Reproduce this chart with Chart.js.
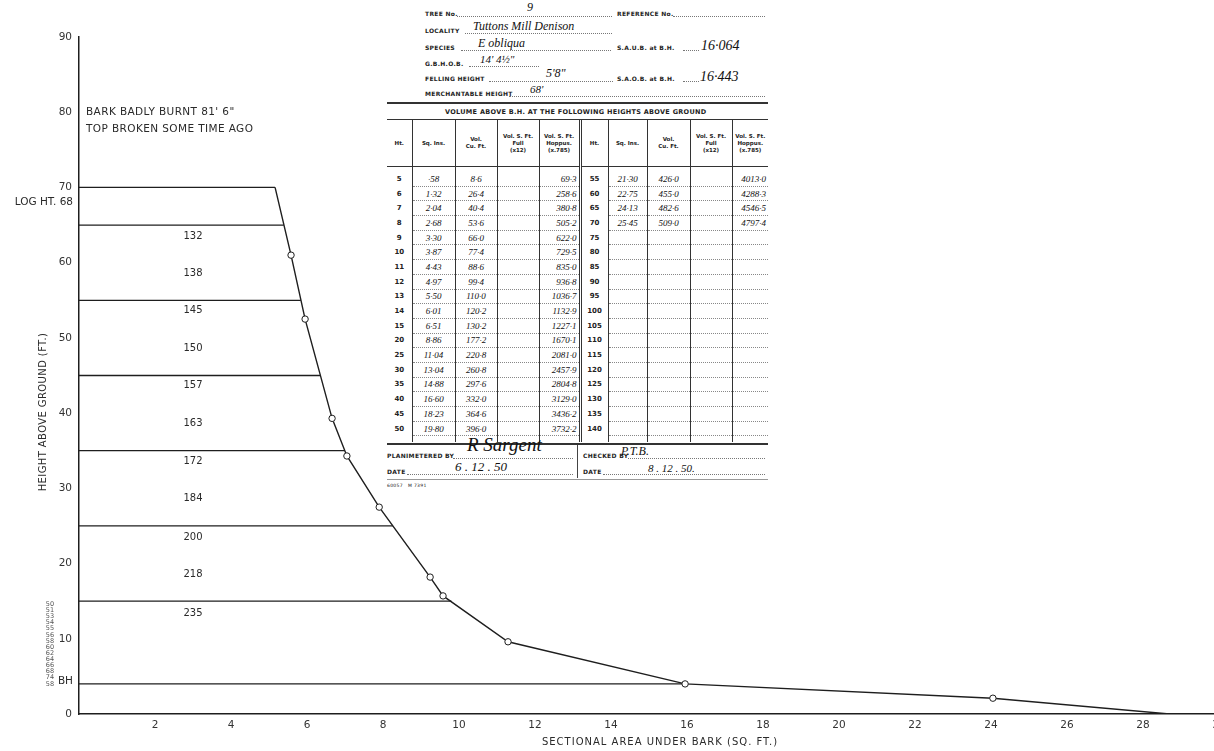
<!DOCTYPE html>
<html>
<head>
<meta charset="utf-8">
<script src="https://cdn.jsdelivr.net/npm/chart.js@4"></script>
<style>
  html, body { margin: 0; padding: 0; background: #fff; overflow: hidden; }
  body { width: 1214px; height: 751px; position: relative; }
  #wrap { position: absolute; left: 0; top: 0; width: 1240px; height: 751px; }
  #card { position: absolute; left: 383px; top: 0; width: 388px; height: 490px; background: #fff;
          font-family: "DejaVu Sans", sans-serif; color: #222; }
  .p { position: absolute; font-size: 6px; font-weight: bold; letter-spacing: 0.3px; white-space: nowrap; line-height: 8px; }
  .h { position: absolute; font-family: "Liberation Serif", serif; font-style: italic; white-space: nowrap; color: #111; }
  .d { position: absolute; height: 0; border-bottom: 1px dotted #777; }
  .rule { position: absolute; left: 4px; width: 381px; height: 0; border-top: 2px solid #333; }
  #vol { position: absolute; left: 4px; top: 120px; width: 381px; border-collapse: collapse; table-layout: fixed; }
  #vol th { font-size: 5.5px; font-weight: bold; line-height: 7px; height: 46px; border-left: 1px solid #333;
            border-bottom: 1.5px solid #333; text-align: center; vertical-align: middle; padding: 0; }
  #vol td { height: 13.7px; padding: 0 2px; border-left: 1px solid #333; border-bottom: 1px dotted #888;
            font-family: "Liberation Serif", serif; font-style: italic; font-size: 9px; text-align: center; white-space: nowrap; color: #111; }
  #vol td.ht { font-family: "DejaVu Sans", sans-serif; font-style: normal; font-weight: bold; font-size: 7px; border-bottom: none; color: #222; }
  #vol td.r { text-align: right; }
  #vol tr.sp td { height: 5px; border-bottom: none; }
  #vol tr.sp2 td { height: 6px; border-bottom: none; }
  #vol .first { border-left: none; }
  #vol .dbl { border-left: 3px double #333; }
</style>
</head>
<body>
<div id="wrap"><canvas id="taper" width="1240" height="751"></canvas></div>

<div id="card">
  <div class="p" style="left:42px;top:10px">TREE No.</div>
  <div class="d" style="left:74px;top:16px;width:155px"></div>
  <div class="h" style="left:144px;top:0px;font-size:12px">9</div>
  <div class="p" style="left:234px;top:10px">REFERENCE No.</div>
  <div class="d" style="left:290px;top:16px;width:92px"></div>

  <div class="p" style="left:42px;top:27px">LOCALITY</div>
  <div class="d" style="left:82px;top:33px;width:147px"></div>
  <div class="h" style="left:90px;top:19px;font-size:12px">Tuttons Mill Denison</div>

  <div class="p" style="left:42px;top:44px">SPECIES</div>
  <div class="d" style="left:78px;top:50px;width:150px"></div>
  <div class="h" style="left:95px;top:36px;font-size:12px">E obliqua</div>
  <div class="p" style="left:234px;top:44px">S.A.U.B. at B.H.</div>
  <div class="d" style="left:300px;top:50px;width:16px"></div>
  <div class="h" style="left:318px;top:38px;font-size:14px">16·064</div>

  <div class="p" style="left:42px;top:60px">G.B.H.O.B.</div>
  <div class="d" style="left:86px;top:66px;width:70px"></div>
  <div class="h" style="left:97px;top:53px;font-size:11px">14' 4½"</div>

  <div class="p" style="left:42px;top:75px">FELLING HEIGHT</div>
  <div class="d" style="left:106px;top:81px;width:124px"></div>
  <div class="h" style="left:163px;top:66px;font-size:12px">5'8"</div>
  <div class="p" style="left:234px;top:75px">S.A.O.B. at B.H.</div>
  <div class="d" style="left:300px;top:81px;width:16px"></div>
  <div class="h" style="left:317px;top:69px;font-size:14px">16·443</div>

  <div class="p" style="left:42px;top:90px">MERCHANTABLE HEIGHT</div>
  <div class="d" style="left:126px;top:96px;width:256px"></div>
  <div class="h" style="left:147px;top:83px;font-size:11px">68'</div>

  <div class="rule" style="top:102px"></div>
  <div class="p" style="left:62px;top:108px;font-size:6.5px">VOLUME ABOVE B.H. AT THE FOLLOWING HEIGHTS ABOVE GROUND</div>
  <div class="rule" style="top:119px;border-top-width:1px"></div>

  <table id="vol">
    <colgroup>
      <col style="width:25px"><col style="width:43px"><col style="width:42px"><col style="width:42px"><col style="width:41px">
      <col style="width:28px"><col style="width:39px"><col style="width:43px"><col style="width:42px"><col style="width:36px">
    </colgroup>
    <thead id="volHead"></thead>
    <tbody id="volBody"></tbody>
  </table>

  <div class="rule" style="top:443px"></div>
  <div class="p" style="left:4px;top:452px">PLANIMETERED BY</div>
  <div class="d" style="left:70px;top:458px;width:120px"></div>
  <div class="h" style="left:84px;top:434px;font-size:19px">R Sargent</div>
  <div style="position:absolute;left:194px;top:445px;width:0;height:33px;border-left:1px solid #444"></div>
  <div class="p" style="left:200px;top:452px">CHECKED BY</div>
  <div class="d" style="left:245px;top:458px;width:137px"></div>
  <div class="h" style="left:238px;top:444px;font-size:12px">P.T.B.</div>
  <div class="p" style="left:4px;top:468px">DATE</div>
  <div class="d" style="left:24px;top:474px;width:166px"></div>
  <div class="h" style="left:72px;top:459px;font-size:13px">6 . 12 . 50</div>
  <div class="p" style="left:200px;top:468px">DATE</div>
  <div class="d" style="left:220px;top:474px;width:162px"></div>
  <div class="h" style="left:265px;top:462px;font-size:11px">8 . 12 . 50.</div>
  <div class="rule" style="top:479px;border-top:1px solid #999"></div>
  <div class="p" style="left:4px;top:482px;font-size:4.5px;font-weight:normal">60057 &nbsp; M 7391</div>
</div>

<script>
// taper curve: sectional area under bark (sq ft) vs height above ground (ft)
const curveArea   = [5.16, 5.58, 5.95, 6.66, 7.05, 7.9, 9.24, 9.58, 11.29, 15.95, 24.05, 28.7];
const curveHeight = [70, 61, 52.5, 39.3, 34.3, 27.5, 18.2, 15.7, 9.6, 4.0, 2.1, 0];
const curveMarked = [false, true, true, true, true, true, true, true, true, true, true, false];

// log section lines and where they meet the curve
const logHeights = [70, 65, 55, 45, 35, 25, 15, 4];
const logEndArea = [5.16, 5.39, 5.84, 6.35, 7.0, 8.26, 9.8, 16.0];

// numbers written inside the sections
const sectionLabels = ['132', '138', '145', '150', '157', '163', '172', '184', '200', '218', '235'];
const sectionLabelHeights = [63.5, 58.6, 53.6, 48.6, 43.7, 38.6, 33.6, 28.6, 23.5, 18.5, 13.4];
const sectionLabelArea = 3.0;

const tinyStack = ['50', '51', '53', '54', '55', '56', '58', '60', '62', '64', '66', '68', '74', '58'];

// volume card
const htLeft     = [5, 6, 7, 8, 9, 10, 11, 12, 13, 14, 15, 20, 25, 30, 35, 40, 45, 50];
const sqInsLeft  = ['·58', '1·32', '2·04', '2·68', '3·30', '3·87', '4·43', '4·97', '5·50', '6·01', '6·51', '8·86', '11·04', '13·04', '14·88', '16·60', '18·23', '19·80'];
const cuFtLeft   = ['8·6', '26·4', '40·4', '53·6', '66·0', '77·4', '88·6', '99·4', '110·0', '120·2', '130·2', '177·2', '220·8', '260·8', '297·6', '332·0', '364·6', '396·0'];
const hoppusLeft = ['69·3', '258·6', '380·8', '505·2', '622·0', '729·5', '835·0', '936·8', '1036·7', '1132·9', '1227·1', '1670·1', '2081·0', '2457·9', '2804·8', '3129·0', '3436·2', '3732·2'];
const htRight     = [55, 60, 65, 70, 75, 80, 85, 90, 95, 100, 105, 110, 115, 120, 125, 130, 135, 140];
const sqInsRight  = ['21·30', '22·75', '24·13', '25·45'];
const cuFtRight   = ['426·0', '455·0', '482·6', '509·0'];
const hoppusRight = ['4013·0', '4288·3', '4546·5', '4797·4'];

const headCols = ['Ht.', 'Sq. Ins.', 'Vol.<br>Cu. Ft.', 'Vol. S. Ft.<br>Full<br>(x12)', 'Vol. S. Ft.<br>Hoppus.<br>(x.785)'];
document.getElementById('volHead').innerHTML = '<tr>' +
  headCols.map((c, i) => `<th class="${i === 0 ? 'first' : ''}">${c}</th>`).join('') +
  headCols.map((c, i) => `<th class="${i === 0 ? 'dbl' : ''}">${c}</th>`).join('') + '</tr>';

const spacer = cls => `<tr class="${cls}"><td class="first"></td><td></td><td></td><td></td><td></td><td class="dbl"></td><td></td><td></td><td></td><td></td></tr>`;
let body = spacer('sp');
htLeft.forEach((h, i) => {
  body += '<tr>' +
    `<td class="ht first">${h}</td><td>${sqInsLeft[i]}</td><td>${cuFtLeft[i]}</td><td></td><td class="r">${hoppusLeft[i]}</td>` +
    `<td class="ht dbl">${htRight[i]}</td><td>${sqInsRight[i] || ''}</td><td>${cuFtRight[i] || ''}</td><td></td><td class="r">${hoppusRight[i] || ''}</td>` +
    '</tr>';
});
body += spacer('sp2');
document.getElementById('volBody').innerHTML = body;

const INK = '#1e1e1e';

const notes = {
  id: 'notes',
  afterDatasetsDraw(chart) {
    const { ctx, chartArea, scales: { x, y } } = chart;
    ctx.save();
    ctx.fillStyle = '#2a2a2a';
    ctx.textBaseline = 'middle';

    ctx.font = '10px "DejaVu Sans"';
    ctx.textAlign = 'center';
    sectionLabels.forEach((t, i) => {
      ctx.fillText(t, x.getPixelForValue(sectionLabelArea), y.getPixelForValue(sectionLabelHeights[i]));
    });

    ctx.font = '10.5px "DejaVu Sans"';
    ctx.textAlign = 'left';
    ctx.letterSpacing = '0.4px';
    ctx.fillText('BARK BADLY BURNT 81\' 6"', chartArea.left + 7, y.getPixelForValue(80));
    ctx.fillText('TOP BROKEN SOME TIME AGO', chartArea.left + 7, y.getPixelForValue(77.8));

    ctx.textAlign = 'right';
    ctx.letterSpacing = '0px';
    ctx.fillText('LOG HT. 68', chartArea.left - 6, y.getPixelForValue(68));
    ctx.fillText('BH', chartArea.left - 6, y.getPixelForValue(4.3));

    // cramped little column of numbers beside the axis
    ctx.font = '6.5px "DejaVu Sans"';
    ctx.textAlign = 'center';
    ctx.fillStyle = '#555';
    const top = y.getPixelForValue(14.6), bottom = y.getPixelForValue(4.0);
    tinyStack.forEach((t, i) => {
      ctx.fillText(t, 50, top + (bottom - top) * i / (tinyStack.length - 1));
    });

    // axis titles
    ctx.fillStyle = '#2a2a2a';
    ctx.font = '10px "DejaVu Sans"';
    ctx.letterSpacing = '1px';
    ctx.fillText('SECTIONAL AREA UNDER BARK (SQ. FT.)', 660, 742);
    ctx.translate(43, 412);
    ctx.rotate(-Math.PI / 2);
    ctx.letterSpacing = '0.4px';
    ctx.fillText('HEIGHT ABOVE GROUND (FT.)', 0, 0);
    ctx.restore();
  }
};

new Chart(document.getElementById('taper'), {
  type: 'scatter',
  data: {
    datasets: [
      {
        label: 'Sectional area',
        data: curveArea.map((a, i) => ({ x: a, y: curveHeight[i] })),
        showLine: true,
        borderColor: INK,
        borderWidth: 1.4,
        tension: 0,
        pointRadius: ctx => curveMarked[ctx.dataIndex] ? 3.2 : 0,
        pointBackgroundColor: '#fff',
        pointBorderColor: INK,
        pointBorderWidth: 1
      },
      ...logHeights.map((h, i) => ({
        label: 'Log ' + h,
        data: [{ x: 0, y: h }, { x: logEndArea[i], y: h }],
        showLine: true,
        borderColor: INK,
        borderWidth: 1.3,
        pointRadius: 0
      }))
    ]
  },
  options: {
    responsive: false,
    animation: false,
    events: [],
    layout: { padding: { left: 0, right: 21, top: 37, bottom: 0 } },
    plugins: { legend: { display: false }, tooltip: { enabled: false } },
    scales: {
      x: {
        type: 'linear', min: 0, max: 30,
        grid: { display: false, drawTicks: false },
        border: { display: true, color: INK, width: 1.5 },
        ticks: {
          stepSize: 2, padding: 5, color: '#333',
          font: { family: 'DejaVu Sans', size: 10.5 },
          callback: v => v === 0 ? '' : v
        },
        afterFit: s => { s.height = 37; }
      },
      y: {
        type: 'linear', min: 0, max: 90,
        grid: { display: false, drawTicks: false },
        border: { display: true, color: INK, width: 1.5 },
        ticks: { stepSize: 10, padding: 7, color: '#333', font: { family: 'DejaVu Sans', size: 10.5 } },
        afterFit: s => { s.width = 79; }
      }
    }
  },
  plugins: [notes]
});
</script>
</body>
</html>
